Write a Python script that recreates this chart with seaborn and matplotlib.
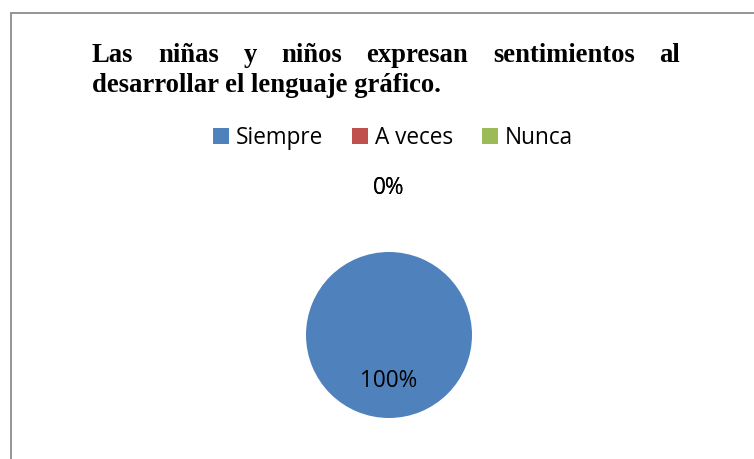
import matplotlib
matplotlib.use("Agg")
import matplotlib.pyplot as plt
import seaborn as sns
import numpy as np
from matplotlib.patches import Rectangle

categories = ["Siempre", "A veces", "Nunca"]
values = [100, 0, 0]
title_lines = ["Las niñas y niños expresan sentimientos al",
               "desarrollar el lenguaje gráfico."]

sns.set_theme(style="white")
colors = ["#4F81BD", "#C0504D", "#9BBB59"]
sans = ["Open Sans", "DejaVu Sans"]
serif = ["Liberation Serif", "DejaVu Serif"]

W, H = 754, 459
fig = plt.figure(figsize=(W / 100, H / 100), dpi=100)
fig.patch.set_facecolor("white")

# frame
fig.add_artist(Rectangle((10.5 / W, -0.1), 1.2, 1.1 - 13.5 / H,
                         transform=fig.transFigure, fill=False,
                         edgecolor="#8c8c8c", linewidth=1.3))

# pie axes
cx, cy, r = 389, 335, 83
ax = fig.add_axes([(cx - r) / W, (H - cy - r) / H, 2 * r / W, 2 * r / H])
wedges, texts, autotexts = ax.pie(values, colors=colors, startangle=90,
                                  counterclock=False, autopct="%1.0f%%",
                                  pctdistance=0.56,
                                  wedgeprops=dict(linewidth=0, edgecolor="none"),
                                  textprops=dict(family=sans, fontsize=16.3, color="black"))
ax.set_xlim(-1, 1)
ax.set_ylim(-1, 1)
ax.set_aspect("equal")
ax.axis("off")
for w, t, v in zip(wedges, autotexts, values):
    if v == 0:
        ang = np.deg2rad(w.theta1)
        t.set_position((1.77 * np.cos(ang), 1.77 * np.sin(ang)))
        t.set_ha("center")
        t.set_va("center")

# legend
handles = [Rectangle((0, 0), 1, 1, facecolor=c, edgecolor="none") for c in colors]
fig.legend(handles, categories, loc="center", bbox_to_anchor=(393 / W, 1 - 138 / H),
           ncol=3, frameon=False, prop=dict(family=sans, size=16.3),
           labelcolor="black",
           handlelength=0.7, handleheight=0.7, handletextpad=0.3,
           columnspacing=1.3)

# justified title
fig.canvas.draw()
renderer = fig.canvas.get_renderer()
x_left, x_right = 92, 680
line_y = [55, 86]
fs = 19.2
for i, line in enumerate(title_lines):
    words = line.split(" ")
    yfig = 1 - line_y[i] / H
    if i == 0:
        arts = [fig.text(0, yfig, w, fontsize=fs, fontweight="bold", family=serif,
                         va="center", ha="left", color="black") for w in words]
        widths = [a.get_window_extent(renderer).width for a in arts]
        gap = (x_right - x_left - sum(widths)) / (len(words) - 1)
        x = x_left
        for a, wd in zip(arts, widths):
            a.set_x(x / W)
            x += wd + gap
    else:
        fig.text(x_left / W, yfig, line, fontsize=fs, fontweight="bold",
                 family=serif, va="center", ha="left", color="black")

fig.savefig("out.png", dpi=100)
